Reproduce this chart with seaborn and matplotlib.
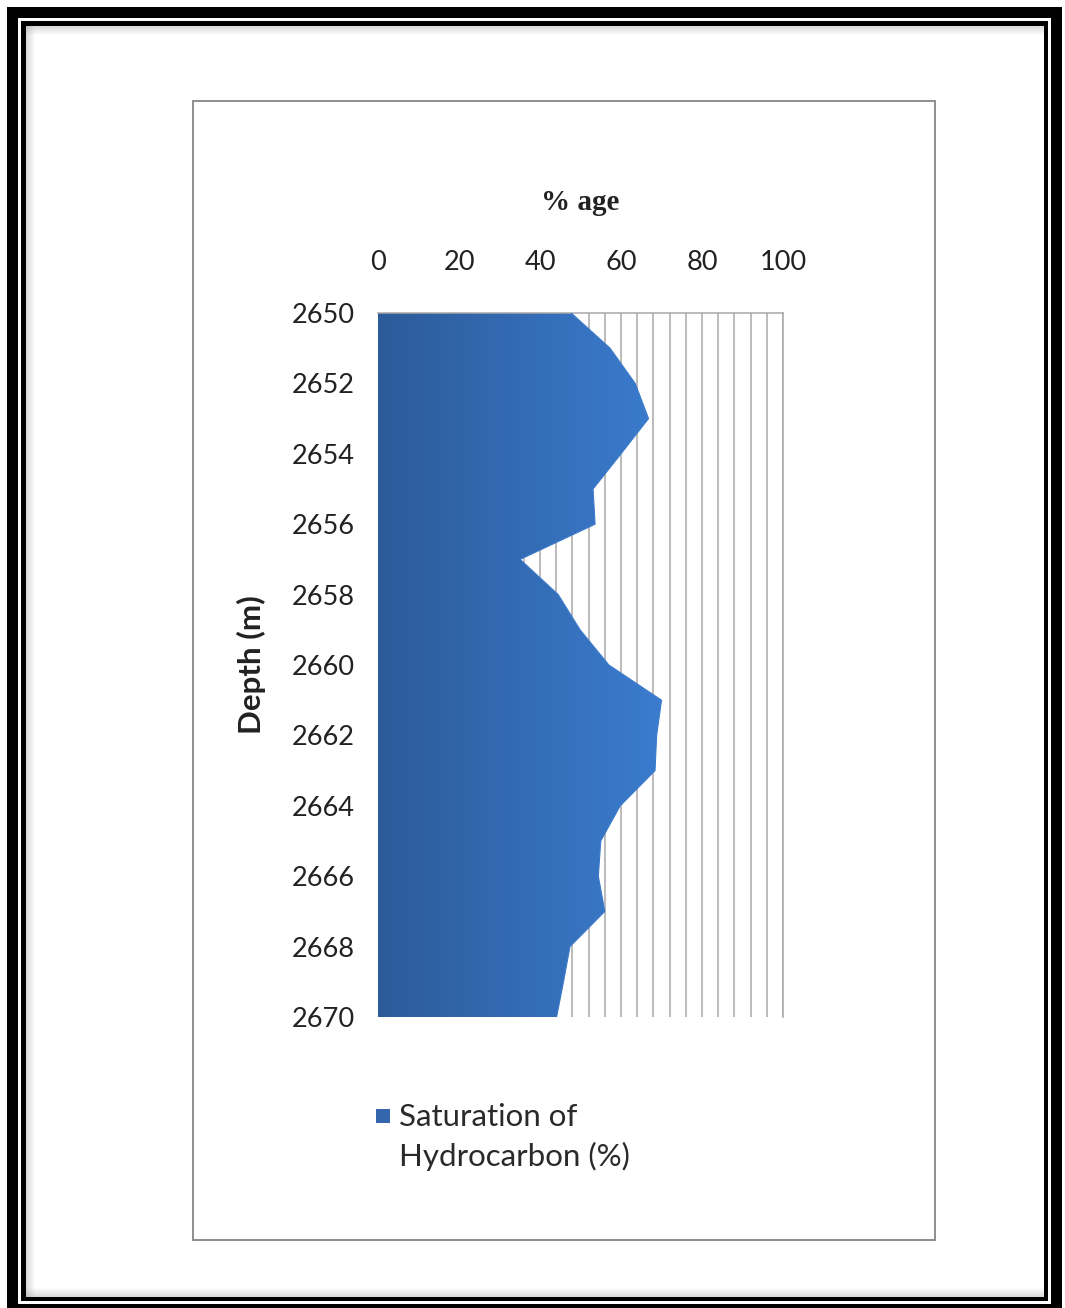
import numpy as np
import pandas as pd
import matplotlib
matplotlib.use("Agg")
import matplotlib.pyplot as plt
from matplotlib.patches import Rectangle
from matplotlib.colors import LinearSegmentedColormap
from matplotlib.ticker import MultipleLocator, FixedLocator
import seaborn as sns

# Hydrocarbon saturation log, one reading per metre of depth
depth_m = [2650, 2651, 2652, 2653, 2654, 2655, 2656, 2657, 2658, 2659, 2660,
           2661, 2662, 2663, 2664, 2665, 2666, 2667, 2668, 2669, 2670]
saturation_pct = [47.7, 57.3, 63.5, 66.8, 60.0, 53.1, 53.6, 35.1, 44.5, 49.9, 57.0,
                  70.0, 68.8, 68.4, 59.8, 55.0, 54.4, 56.0, 47.4, 45.8, 44.1]
depth_ticks = list(range(2650, 2671, 2))
pct_ticks = [0, 20, 40, 60, 80, 100]
series_name = "Saturation of\nHydrocarbon (%)"

sns.set_style("white")
plt.rcParams["font.family"] = ["Lato", "DejaVu Sans"]

W, H = 1065, 1308
fig = plt.figure(figsize=(W / 100, H / 100), dpi=100)
fig.patch.set_facecolor("white")


def fx(x):
    return x / W


def fy(y):
    return 1 - y / H


def strip(x0, y0, x1, y1, color, alpha=1.0):
    fig.add_artist(Rectangle((fx(x0), fy(y1)), (x1 - x0) / W, (y1 - y0) / H,
                             transform=fig.transFigure, facecolor=color,
                             edgecolor="none", alpha=alpha))


# page frame: thick outer band, thin inner rule and a soft inner shadow
strip(7, 7, 1062, 18, "black")
strip(7, 7, 18, 1308, "black")
strip(1051, 7, 1062, 1308, "black")
strip(7, 1304, 1062, 1308, "black")
strip(21, 21, 1048, 26, "black")
strip(21, 21, 26, 1301, "black")
strip(1044, 21, 1048, 1301, "black")
strip(21, 1297, 1048, 1301, "black")
for i in range(9):
    a = 0.28 * (1 - i / 9)
    strip(26 + i, 26, 27 + i, 1297, "#808080", a)
    strip(26, 26 + i, 1044, 27 + i, "#808080", a)
    strip(26, 1296 - i, 1044, 1297 - i, "#808080", a)

# chart box
fig.add_artist(Rectangle((fx(193), fy(1240)), (935 - 193) / W, (1240 - 101) / H,
                         transform=fig.transFigure, facecolor="none",
                         edgecolor="#8E8E8E", lw=1.4))

ax = fig.add_axes([fx(378), fy(1017), (783 - 378) / W, (1017 - 313) / H])
ax.set_facecolor("none")
df = pd.DataFrame({"Depth (m)": depth_m, "Saturation of Hydrocarbon (%)": saturation_pct})

# gradient-filled area between the axis and the saturation curve
poly = ax.fill_betweenx(df["Depth (m)"], 0, df["Saturation of Hydrocarbon (%)"],
                        facecolor="none", edgecolor="none")
cmap = LinearSegmentedColormap.from_list("hc", ["#2C5B99", "#3B7CCF"])
grad = np.linspace(0, 1, 256).reshape(1, -1)
img = ax.imshow(grad, cmap=cmap, aspect="auto", zorder=2,
                extent=[0, max(saturation_pct), max(depth_m), min(depth_m)])
img.set_clip_path(poly.get_paths()[0], ax.transData)

sns.lineplot(data=df, x="Saturation of Hydrocarbon (%)", y="Depth (m)", orient="y",
             color="#3A79CB", lw=0.8, ax=ax, zorder=3, estimator=None, sort=False)

ax.set_xlim(0, 100)
ax.set_ylim(max(depth_m), min(depth_m))
ax.xaxis.set_major_locator(FixedLocator(pct_ticks))
ax.xaxis.set_minor_locator(MultipleLocator(4))
ax.yaxis.set_major_locator(FixedLocator(depth_ticks))
ax.grid(False)
ax.grid(True, which="both", axis="x", color="#A8A8A8", lw=1.1, zorder=0)
ax.set_axisbelow(True)

ax.xaxis.tick_top()
ax.xaxis.set_label_position("top")
ax.tick_params(axis="both", which="both", length=0, labelsize=19.5, colors="#222222")
ax.tick_params(axis="x", pad=27)
ax.tick_params(axis="y", pad=17)

ax.set_xlabel("% age", fontfamily=["Liberation Serif"], fontweight="bold",
              fontsize=21, labelpad=29, color="#222222")
ax.set_ylabel("Depth (m)", fontweight="bold", fontsize=22.5, labelpad=18, color="#222222")

for side in ["left", "bottom"]:
    ax.spines[side].set_visible(False)
for side in ["top", "right"]:
    ax.spines[side].set_color("#A8A8A8")
    ax.spines[side].set_linewidth(1.1)

# legend: swatch beside the first line of the series name
fig.add_artist(Rectangle((fx(376), fy(1123)), 14 / W, 14 / H,
                         transform=fig.transFigure, facecolor="#3466AE",
                         edgecolor="none"))
fig.text(fx(399), fy(1103), series_name, fontsize=22.5, color="#2A2A2A",
         va="top", ha="left", linespacing=1.45,
         transform=fig.transFigure)

fig.savefig("out.png", dpi=100)
